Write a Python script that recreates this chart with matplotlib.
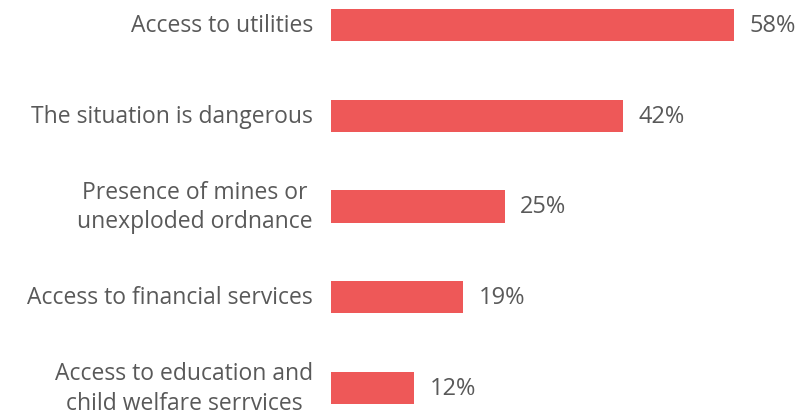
import matplotlib.pyplot as plt

categories = [
    "Access to utilities",
    "The situation is dangerous",
    "Presence of mines or\nunexploded ordnance",
    "Access to financial services",
    "Access to education and\nchild welfare serrvices",
]
values = [58, 42, 25, 19, 12]

BAR_COLOR = "#EE5858"
TEXT_COLOR = "#595959"

plt.rcParams["font.family"] = ["Open Sans", "DejaVu Sans"]

fig = plt.figure(figsize=(8, 4.14), dpi=100)
ax = fig.add_axes([331 / 800, 0, 469 / 800, 1])

ypos = list(range(len(categories)))
ax.barh(ypos, values, height=0.353, color=BAR_COLOR)

ax.set_xlim(0, 469 / 6.95)
ax.set_ylim(4.2755, -0.2865)

# value labels just past the end of each bar
for y, v in zip(ypos, values):
    ax.annotate(f"{v}%", xy=(v, y), xytext=(11, 0),
                textcoords="offset points", va="center", ha="left",
                fontsize=17, color=TEXT_COLOR)

# category labels, right-aligned against the bars
for y, lab in zip(ypos, categories):
    ax.annotate(lab, xy=(0, y), xycoords="data", xytext=(-13, 0),
                textcoords="offset points", ha="right", va="center",
                multialignment="center", fontsize=16.5, color=TEXT_COLOR,
                linespacing=1.3)

ax.axis("off")

fig.savefig("out.png", dpi=100)
